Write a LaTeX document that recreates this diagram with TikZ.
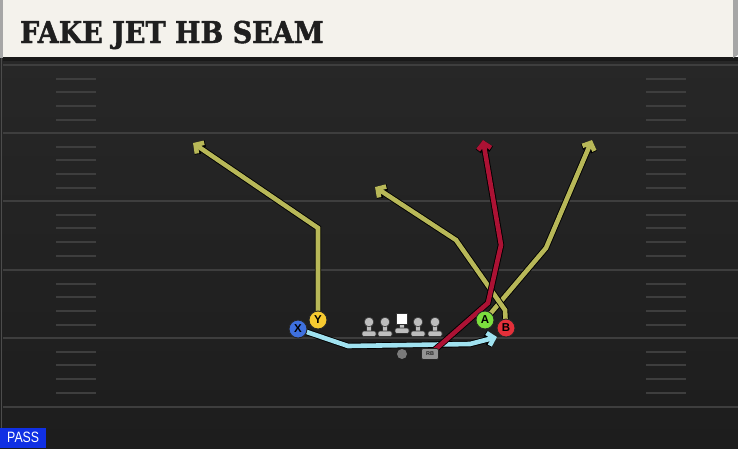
\documentclass[tikz,border=0pt]{standalone}
\usepackage{fontspec}
\setmainfont{Liberation Sans}
\newfontfamily\slabfont{DejaVu Serif}[BoldFeatures={FakeBold=1.6}]
\usetikzlibrary{arrows.meta}
\pgfdeclarelayer{field}
\pgfdeclarelayer{routes}
\pgfsetlayers{field,routes,main}
\definecolor{cream}{RGB}{244,242,236}
\definecolor{yardgray}{RGB}{62,62,62}
\definecolor{olive}{RGB}{184,184,88}
\definecolor{rbred}{RGB}{172,18,52}
\definecolor{skyblue}{RGB}{160,226,240}
\definecolor{xblue}{RGB}{62,112,222}
\definecolor{yyellow}{RGB}{246,202,48}
\definecolor{agreen}{RGB}{124,222,62}
\definecolor{bred}{RGB}{228,48,58}
\definecolor{linegray}{RGB}{190,190,190}
\definecolor{passblue}{RGB}{16,48,228}
\begin{document}
\begin{tikzpicture}[x=1pt,y=-1pt,
        player/.style={circle,draw=black!85,line width=0.9pt,minimum size=18pt,
            inner sep=0pt,font=\bfseries\fontsize{11.5}{11.5}\selectfont},
        route/.style={line width=4.6pt,line join=miter,
            -{Straight Barb[length=6pt,width=13pt]},
            preaction={draw=black,line width=6.4pt}},
        lineman/.style={fill=linegray,draw=black!80,line width=0.6pt},
        yard/.style={draw=yardgray,line width=2pt},
        hash/.style={draw=yardgray,line width=1.4pt}]
\useasboundingbox (0,0) rectangle (738,448);

% field and header
\begin{pgfonlayer}{field}
\shade[top color={rgb,255:red,39;green,39;blue,39},bottom color={rgb,255:red,29;green,29;blue,29}]
    (0,58) rectangle (738,448);
\fill[black!90] (3,57) rectangle (738,61);
\fill[cream] (3,0) rectangle (733,57);
\fill[black!35] (0,0) rectangle (3,58);
\fill[black!35] (733,0) -- (738,0) -- (738,55) -- (733,58) -- cycle;
\draw[black!70,line width=1pt] (1,58) -- (1,448);

\foreach \yy in {65,133,201,270,338,407}
    \draw[yard] (3,\yy) -- (738,\yy);
\foreach \yy in {65,133,201,270,338}
    \foreach \dd in {14,27,41,55} {
        \draw[hash] (56,\yy+\dd) -- (96,\yy+\dd);
        \draw[hash] (646,\yy+\dd) -- (686,\yy+\dd);
    }
\end{pgfonlayer}

\node[anchor=base west,inner sep=0pt,text=black!88,xscale=0.9,
    font=\slabfont\bfseries\fontsize{30}{30}\selectfont] (title) at (20,43) {FAKE JET HB SEAM};

% offensive line
\foreach \lx in {369,385,418,435} {
    \draw[lineman] (\lx-2.5,324) rectangle (\lx+2.5,332);
    \draw[lineman] (\lx,322) circle (4.8);
    \draw[lineman,rounded corners=1.5] (\lx-7,331) rectangle (\lx+7,336.5);
}
\draw[lineman] (399.5,323) rectangle (404.5,329);
\draw[lineman,fill=white] (396.5,313.5) rectangle (407.5,324);
\draw[lineman,rounded corners=1.5] (395,328) rectangle (409,333.5);

\node[circle,fill=black!52,minimum size=10pt,inner sep=0pt] (qb) at (402,354) {};
\node[rounded corners=2pt,fill=black!42,draw=black!85,line width=0.7pt,minimum width=17pt,
    minimum height=11pt,inner sep=0pt,font=\bfseries\fontsize{5.5}{5.5}\selectfont,text=black!85] (rb) at (430,354) {RB};

% skill players
\node[player,fill=xblue] (X) at (298,329) {X};
\node[player,fill=yyellow] (Y) at (318,320) {Y};
\node[player,fill=agreen] (A) at (485,320) {A};
\node[player,fill=bred] (B) at (506,328) {B};

\coordinate (ytip) at (193,143);
\coordinate (xtip) at (497,337);
\coordinate (btip) at (375,187);
\coordinate (atip) at (592,140);
\coordinate (rbtip) at (483,140);

% routes
\begin{pgfonlayer}{routes}
\draw[route,skyblue] (X.center) -- (348,346) -- (470,344) -- (xtip);
\draw[route,olive] (Y.center) -- (318,228) -- (ytip);
\draw[route,olive] (A.center) -- (546,248) -- (atip);
\draw[route,olive] (B.center) -- (505,310) -- (456,240) -- (btip);
\draw[route,rbred] (rb.center) -- (488,303) -- (501,245) -- (rbtip);
\end{pgfonlayer}

\node[fill=passblue,text=white,anchor=south west,minimum width=46pt,minimum height=20pt,
    inner sep=0pt,font=\fontsize{15}{15}\selectfont] (pass) at (0,448) {\scalebox{0.82}[1]{PASS}};

\end{tikzpicture}
\end{document}
